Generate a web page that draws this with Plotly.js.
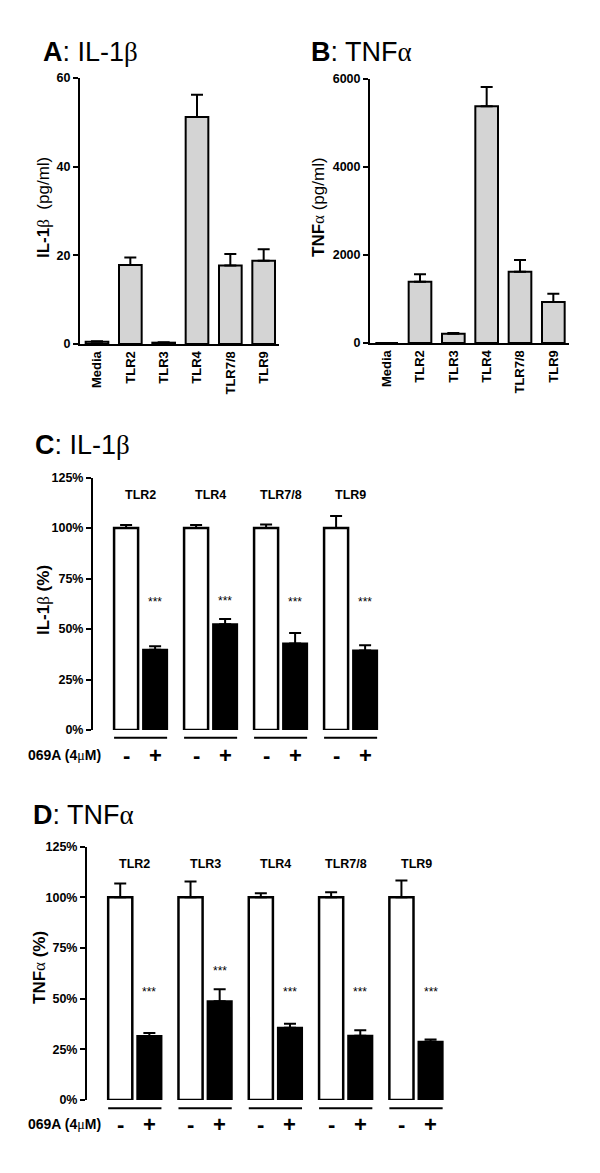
<!DOCTYPE html>
<html>
<head>
<meta charset="utf-8">
<script src="https://cdn.plot.ly/plotly-3.0.1.min.js"></script>
<style>html,body{margin:0;padding:0;background:#fff;}</style>
</head>
<body>
<div id="chart" style="width:600px;height:1173px;"></div>
<script>
// ---------- data ----------
const catsAB = ['Media', 'TLR2', 'TLR3', 'TLR4', 'TLR7/8', 'TLR9'];
const il1bPg = [0.5, 17.8, 0.3, 51.2, 17.7, 18.8];
const il1bPgErr = [0.1, 1.7, 0.1, 5.0, 2.6, 2.6];
const tnfPg = [0, 1390, 210, 5380, 1620, 930];
const tnfPgErr = [0, 170, 20, 440, 265, 190];

const catsC = ['TLR2', 'TLR4', 'TLR7/8', 'TLR9'];
const ctrlC = [100, 100, 100, 100];
const ctrlCErr = [1.5, 1.5, 1.7, 6.0];
const trtC = [39.7, 52.4, 42.8, 39.4];
const trtCErr = [1.8, 2.5, 5.2, 2.6];
const sigC = ['***', '***', '***', '***'];

const catsD = ['TLR2', 'TLR3', 'TLR4', 'TLR7/8', 'TLR9'];
const ctrlD = [100, 100, 100, 100, 100];
const ctrlDErr = [6.8, 7.8, 2.0, 2.5, 8.3];
const trtD = [31.6, 48.7, 35.7, 31.7, 28.8];
const trtDErr = [1.5, 6.0, 1.9, 2.7, 1.1];
const sigD = ['***', '***', '***', '***', '***'];

const treatLabels = ['-', '+'];
const drugLabel = '069A (4<span style="font-family:Liberation Serif;font-weight:normal">μ</span>M)';

// ---------- helpers ----------
const W = 600, H = 1173;
const fam = 'Liberation Sans, Arial, sans-serif';
const px = p => p / W;
const py = p => 1 - p / H;
const greek = g => '<span style="font-family:Liberation Serif">' + g + '</span>';
const zeros = n => new Array(n).fill(0);

const BARGAP = 0.171, GROUPGAP = 0.172;
const slot = (1 - BARGAP) / 2;
const barW = slot * (1 - GROUPGAP);
const off = slot / 2;
const half = off + barW / 2;

function errUp(arr) {
  return {type: 'data', symmetric: false, array: arr, arrayminus: zeros(arr.length),
          color: '#000', thickness: 2, width: 6};
}

const traces = [
  {type: 'bar', x: catsAB, y: il1bPg, xaxis: 'x', yaxis: 'y', width: 0.68,
   marker: {color: '#d4d4d4', line: {color: '#000', width: 2}}, error_y: errUp(il1bPgErr)},
  {type: 'bar', x: catsAB, y: tnfPg, xaxis: 'x2', yaxis: 'y2', width: 0.68,
   marker: {color: '#d4d4d4', line: {color: '#000', width: 2}}, error_y: errUp(tnfPgErr)},
  {type: 'bar', x: catsC, y: ctrlC, xaxis: 'x3', yaxis: 'y3',
   marker: {color: '#fff', line: {color: '#000', width: 2.5}}, error_y: errUp(ctrlCErr)},
  {type: 'bar', x: catsC, y: trtC, xaxis: 'x3', yaxis: 'y3',
   marker: {color: '#000', line: {color: '#000', width: 2}}, error_y: errUp(trtCErr)},
  {type: 'bar', x: catsD, y: ctrlD, xaxis: 'x4', yaxis: 'y4',
   marker: {color: '#fff', line: {color: '#000', width: 2.5}}, error_y: errUp(ctrlDErr)},
  {type: 'bar', x: catsD, y: trtD, xaxis: 'x4', yaxis: 'y4',
   marker: {color: '#000', line: {color: '#000', width: 2}}, error_y: errUp(trtDErr)}
];

const tickFont = {family: fam, size: 12.5, color: '#000', weight: 'bold'};
function yax(anchor, domain, range, tickvals, ticktext) {
  return {
    anchor: anchor, domain: domain, range: range, tickvals: tickvals, ticktext: ticktext,
    showgrid: false, zeroline: false,
    showline: true, linewidth: 2, linecolor: '#000', ticks: 'outside', ticklen: 5,
    tickwidth: 2, tickcolor: '#000', tickfont: tickFont, fixedrange: true
  };
}
function xaxCat(anchor, domain, range, showLine) {
  return {
    anchor: anchor, domain: domain, range: range, type: 'category', showgrid: false, zeroline: false,
    showline: showLine, linewidth: 2, linecolor: '#000', ticks: '',
    showticklabels: showLine, tickangle: -90,
    tickfont: {family: fam, size: 13, color: '#000', weight: 'bold'}, fixedrange: true
  };
}
const pctTicks = [0, 25, 50, 75, 100, 125];
const pctText = pctTicks.map(v => '<b>' + v + '%</b>');

const layout = {
  width: W, height: H, margin: {l: 0, r: 0, t: 0, b: 0},
  paper_bgcolor: '#fff', plot_bgcolor: 'rgba(0,0,0,0)', showlegend: false,
  barmode: 'group', bargap: BARGAP, bargroupgap: GROUPGAP,
  font: {family: fam, color: '#000'},
  xaxis: xaxCat('y', [px(80), px(279)], [-0.51, 5.46], true),
  yaxis: yax('x', [py(344), py(78)], [0, 60], [0, 20, 40, 60], ['<b>0</b>', '<b>20</b>', '<b>40</b>', '<b>60</b>']),
  xaxis2: xaxCat('y2', [px(370), px(569)], [-0.5, 5.47], true),
  yaxis2: yax('x2', [py(343), py(79)], [0, 6000], [0, 2000, 4000, 6000], ['<b>0</b>', '<b>2000</b>', '<b>4000</b>', '<b>6000</b>']),
  xaxis3: xaxCat('y3', [px(93), px(93 + 4.18 * 70)], [-0.68, 3.5], false),
  yaxis3: yax('x3', [py(730), py(477.5)], [0, 125], pctTicks, pctText),
  xaxis4: xaxCat('y4', [px(87), px(87 + 5.18 * 70.3)], [-0.68, 4.5], false),
  yaxis4: yax('x4', [py(1100), py(846.7)], [0, 125], pctTicks, pctText),
  annotations: [],
  shapes: []
};

const A = layout.annotations;
// panel titles
[['<b>A</b>: IL-1' + greek('β'), 41, 52], ['<b>B</b>: TNF' + greek('α'), 309, 52],
 ['<b>C</b>: IL-1' + greek('β'), 33, 445], ['<b>D</b>: TNF' + greek('α'), 31, 815]].forEach(t => {
  A.push({text: t[0], xref: 'paper', yref: 'paper', x: px(t[1]), y: py(t[2]),
          xanchor: 'left', yanchor: 'middle', showarrow: false,
          font: {family: fam, size: 27, color: '#000'}});
});
// y axis titles
[['<b>IL-1</b>' + greek('β') + '  (pg/ml)', 43, 208], ['<b>TNF</b>' + greek('α') + ' (pg/ml)', 318, 207],
 ['<b>IL-1</b>' + greek('β') + '<b> (%)</b>', 43, 600], ['<b>TNF</b>' + greek('α') + '<b> (%)</b>', 39, 968]].forEach(t => {
  A.push({text: t[0], xref: 'paper', yref: 'paper', x: px(t[1]), y: py(t[2]),
          xanchor: 'center', yanchor: 'middle', textangle: -90, showarrow: false,
          font: {family: fam, size: 17, color: '#000'}});
});

function groupDecor(cats, trt, trtErr, sig, xr, yr, starLevel, lineY, signY) {
  cats.forEach((c, i) => {
    A.push({text: '<b>' + c + '</b>', xref: xr, yref: yr, x: i, y: 116.3,
            xanchor: 'center', yanchor: 'middle', showarrow: false,
            font: {family: fam, size: 12.5, color: '#000'}});
    const sy = Math.max(starLevel, trt[i] + trtErr[i] + 9);
    A.push({text: sig[i], xref: xr, yref: yr, x: i + off, y: sy,
            xanchor: 'center', yanchor: 'middle', showarrow: false,
            font: {family: fam, size: 12, color: '#000'}});
    treatLabels.forEach((s, k) => {
      A.push({text: '<b>' + s + '</b>', xref: xr, yref: 'paper', x: i + (k === 0 ? -off : off), y: py(signY),
              xanchor: 'center', yanchor: 'middle', showarrow: false,
              font: {family: fam, size: 22, color: '#000'}});
    });
    layout.shapes.push({type: 'line', xref: xr, yref: 'paper', x0: i - half, x1: i + half,
                        y0: py(lineY), y1: py(lineY), line: {color: '#000', width: 2}});
  });
}
groupDecor(catsC, trtC, trtCErr, sigC, 'x3', 'y3', 63.5, 737.7, 755);
groupDecor(catsD, trtD, trtDErr, sigD, 'x4', 'y4', 53.4, 1108.3, 1124.3);

[755, 1124.3].forEach(y => {
  A.push({text: '<b>' + drugLabel + '</b>', xref: 'paper', yref: 'paper', x: px(103), y: py(y),
          xanchor: 'right', yanchor: 'middle', showarrow: false,
          font: {family: fam, size: 14, color: '#000'}});
});

Plotly.newPlot('chart', traces, layout, {staticPlot: true, displayModeBar: false});
</script>
</body>
</html>
